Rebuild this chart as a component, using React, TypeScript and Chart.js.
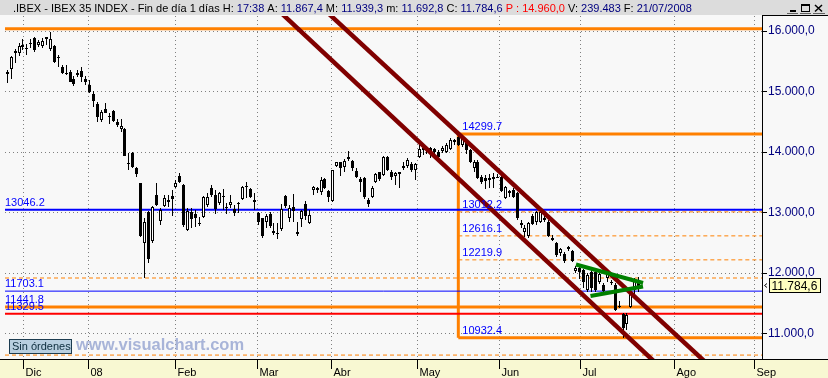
import React, { useEffect, useRef } from 'react';
import { Chart, registerables } from 'chart.js';

Chart.register(...registerables);

const FONT = "'Liberation Sans', Arial, sans-serif";
Chart.defaults.font.family = FONT;

// ---- Candle data (trading-day index = array position) ----
const opens = [
  15284, 15378, 15675, 15631, 15774, 15719, 15785, 15879, 15774, 15752,
  15895, 15708, 15752, 15576, 15411, 15301, 15323, 15213, 15312, 15334,
  15207, 15103, 14959, 14794, 14530, 14717, 14590, 14684, 14502, 14387,
  14376, 13825, 13990, 13742, 13484, 12504, 13016, 12537, 13291, 12867,
  13109, 13181, 13280, 13429, 13605, 13456, 12713, 13016, 12977, 12834,
  12922, 13126, 13401,
  13291, 13153, 13280, 13098, 13126, 13054, 13142, 13225, 13434, 13385,
  13208, 12988, 12906, 12851, 12972, 12658, 12663, 12729, 13275, 12917,
  13098, 12685, 12895, 13137, 12834, 13374, 13374, 13346, 13555, 13357,
  13192, 13776, 13831, 13759, 13919, 13853, 13687, 13555, 13577, 13208,
  13264, 13511, 13665, 13621, 13924, 13676, 13610, 13632, 13731, 13770,
  13798, 13704, 13913, 14073,
  14062, 14062, 14051, 14007, 14018, 13996, 14051, 14161, 14255, 14117,
  14161, 14034, 13732, 13842, 13594, 13566, 13566, 13555, 13594, 13594,
  13247, 13319, 13374, 13319, 12823, 12685, 12619, 12950, 12840, 12851,
  12906, 12851, 12575, 12493, 12327, 12311, 12399, 12366, 12036, 12091,
  12052, 11722, 12025, 12025, 11859, 11804, 11925, 11859, 11804, 11452,
  11320, 11155, 11447, 11722, 11867.4,
];
const highs = [
  15356, 15587, 15697, 15796, 15862, 15785, 15862, 15906, 15851, 15879,
  15906, 15983, 15763, 15609, 15433, 15433, 15356, 15257, 15356, 15411,
  15257, 15191, 15014, 14833, 14695, 14805, 14640, 14695, 14541, 14541,
  14392, 13979, 14007, 13759, 13495, 12906, 13032, 13109, 13484, 13071,
  13291, 13291, 13374, 13539, 13660, 13473, 13071, 13071, 13043, 12933,
  13274, 13319, 13456,
  13374, 13346, 13390, 13153, 13291, 13126, 13181, 13445, 13500, 13401,
  13318, 13016, 12917, 12972, 13005, 12823, 12823, 13137, 13291, 13126,
  13302, 12851, 13043, 13192, 13043, 13440, 13429, 13594, 13577, 13374,
  13709, 13842, 13842, 13886, 14018, 13869, 13731, 13594, 13594, 13236,
  13445, 13649, 13676, 13941, 13941, 13704, 13676, 13676, 13842, 13897,
  13831, 13814, 14117, 14117,
  14106, 14089, 14073, 14034, 14106, 14144, 14227, 14216, 14299.7, 14282,
  14183, 14051, 13869, 13869, 13621, 13621, 13632, 13649, 13632, 13610,
  13445, 13374, 13401, 13346, 12878, 12795, 12851, 12972, 13027, 13027,
  12961, 12878, 12630, 12520, 12421, 12355, 12454, 12382, 12124, 12135,
  12069, 11997, 12052, 12036, 12025, 11832, 12036, 11887, 11832, 11540,
  11336, 11336, 11760, 11920, 11939.3,
];
const lows = [
  15147, 15213, 15477, 15587, 15686, 15609, 15719, 15653, 15741, 15719,
  15763, 15675, 15477, 15411, 15290, 15268, 15158, 15092, 15235, 15163,
  15114, 14970, 14750, 14502, 14502, 14640, 14464, 14502, 14420, 14337,
  13930, 13704, 13732, 13594, 12603, 11915, 12162, 12493, 13109, 12796,
  13098, 13098, 12950, 13401, 13484, 12768, 12702, 12740, 12768, 12779,
  12906, 13098, 13264,
  12972, 13126, 13043, 12972, 13071, 12950, 12988, 13209, 13247, 13247,
  13043, 12795, 12575, 12740, 12740, 12630, 12564, 12696, 13071, 12840,
  12851, 12614, 12768, 12878, 12806, 13291, 13318, 13291, 13390, 13181,
  13170, 13759, 13610, 13676, 13853, 13687, 13566, 13346, 13225, 13098,
  13247, 13484, 13522, 13605, 13687, 13539, 13456, 13412, 13704, 13743,
  13665, 13539, 13897, 13952,
  13963, 13897, 13952, 13842, 13979, 13979, 14034, 14117, 14106, 14089,
  13963, 13814, 13676, 13555, 13467, 13390, 13401, 13412, 13566, 13346,
  13225, 13264, 13236, 12878, 12740, 12603, 12575, 12795, 12795, 12823,
  12840, 12603, 12531, 12272, 12289, 12162, 12366, 12179, 11997, 11904,
  11749, 11694, 11683, 11694, 11815, 11694, 11859, 11804, 11375, 11430,
  10932.4, 11061, 11430, 11639, 11692.8,
];
const closes = [
  15328, 15565, 15642, 15752, 15730, 15697, 15796, 15686, 15818, 15840,
  15873, 15873, 15488, 15565, 15312, 15290, 15163, 15125, 15279, 15246,
  15158, 14992, 14849, 14585, 14662, 14651, 14585, 14519, 14447, 14431,
  13935, 13798, 13759, 13638, 12614, 12851, 12228, 13098, 13126, 13043,
  13236, 13209, 13219, 13495, 13511, 12795, 13032, 12889, 12906, 12806,
  13253, 13264, 13291,
  13060, 13318, 13253, 13071, 13170, 12999, 13164, 13429, 13423, 13264,
  13170, 12851, 12619, 12950, 12784, 12696, 12641, 13060, 13115, 13082,
  13027, 12641, 13027, 12950, 12961, 13429, 13412, 13539, 13412, 13264,
  13698, 13831, 13732, 13853, 13886, 13743, 13594, 13500, 13264, 13137,
  13412, 13632, 13555, 13924, 13704, 13594, 13660, 13665, 13775, 13869,
  13704, 13798, 14051, 14034,
  14034, 13979, 14007, 13924, 14062, 14117, 14200, 14200, 14117, 14255,
  14034, 13842, 13842, 13566, 13500, 13522, 13539, 13594, 13577, 13357,
  13429, 13357, 13264, 12906, 12795, 12740, 12823, 12806, 13016, 13005,
  12878, 12619, 12548, 12300, 12399, 12201, 12437, 12201, 12091, 12025,
  11859, 11970, 11749, 11722, 11981, 11705, 12025, 11832, 11391, 11447,
  11089, 11309, 11700, 11887, 11784.6,
];

// ---- Axis labels ----
const monthLabels = ['Dic', '08', 'Feb', 'Mar', 'Abr', 'May', 'Jun', 'Jul', 'Ago', 'Sep'];
const monthTickIdx = [4.1, 20.8, 43.0, 63.9, 82.7, 104.7, 125.4, 146.2, 170.2, 190.4];
const yTicks = [11000, 12000, 13000, 14000, 15000, 16000];

// ---- Drawn levels ----
const levelValues = [16038, 13046.2, 11920, 11703.1, 11441.8, 11329.5, 10647];
const levelLabels = ['', '13046.2', '', '11703.1', '11441.8', '11329.5', ''];
const fibValues = [14299.7, 13012.2, 12616.1, 12219.9, 10932.4];
const fibLabels = ['14299.7', '13012.2', '12616.1', '12219.9', '10932.4'];
const fibStartIdx = 115;
const channelUpper = [[79.7, 16421], [181.7, 10309]];
const channelLower = [[67.0, 16469], [171.5, 10144]];
const triangleUpper = [[145.0, 12143], [162.1, 11837]];
const triangleLower = [[148.7, 11623], [162.1, 11780]];
const lastPrice = 11784.6;

const titleParts: [string, string][] = [
  ['.IBEX - IBEX 35 INDEX - Fin de día 1 días H: ', 'k'],
  ['17:38', 'v'], [' A: ', 'k'], ['11.867,4', 'v'], [' M: ', 'k'], ['11.939,3', 'v'],
  [' m: ', 'k'], ['11.692,8', 'v'], [' C: ', 'k'], ['11.784,6', 'v'],
  [' P : 14.960,0', 'r'], [' V: ', 'k'], ['239.483', 'v'], [' F: ', 'k'], ['21/07/2008', 'v'],
];

// ---- Styles / scale settings ----
const X_MIN = -0.586;
const X_MAX = 192.43;
const Y_MIN = 10582.1;
const Y_MAX = 16247.8;
const ORANGE = '#ff8000';
const levelStyles = [
  { color: ORANGE, width: 3, dash: [] as number[] },
  { color: '#0000ff', width: 2, dash: [] as number[] },
  { color: ORANGE, width: 1, dash: [4, 3] },
  { color: '#0000ff', width: 1, dash: [] as number[] },
  { color: ORANGE, width: 3, dash: [] as number[] },
  { color: '#ff0000', width: 2, dash: [] as number[] },
  { color: ORANGE, width: 1, dash: [4, 3] },
];
const fibStyles = [
  { color: ORANGE, width: 3, dash: [] as number[] },
  { color: ORANGE, width: 1, dash: [4, 3] },
  { color: ORANGE, width: 1, dash: [4, 3] },
  { color: ORANGE, width: 1, dash: [4, 3] },
  { color: ORANGE, width: 3, dash: [] as number[] },
];

function fmtEs(v: number, dec: number) {
  const [i, d] = v.toFixed(dec).split('.');
  return i.replace(/\B(?=(\d{3})+(?!\d))/g, '.') + ',' + (d ?? '0');
}

const snapPlugin = {
  id: 'snapBars',
  afterDatasetsUpdate(chart: any) {
    chart.data.datasets.forEach((ds: any, di: number) => {
      if (ds.type !== 'bar') return;
      const meta = chart.getDatasetMeta(di);
      meta.data.forEach((el: any) => {
        el.x = Math.floor(el.x) + 0.5;
        el.y = Math.round(el.y);
        el.base = Math.round(el.base);
        if (el.base - el.y < 1) el.base = el.y + 1;
      });
    });
  },
};

const decorPlugin = {
  id: 'decor',
  beforeDraw(chart: any) {
    const { ctx, chartArea: ca, scales } = chart;
    const xs = scales.x;
    ctx.save();
    ctx.fillStyle = '#f8f8f8';
    ctx.fillRect(0, 0, chart.width, chart.height);
    ctx.strokeStyle = '#808080';
    ctx.lineWidth = 1;
    ctx.setLineDash([1, 3]);
    monthTickIdx.forEach((m) => {
      const px = Math.floor(xs.getPixelForValue(m)) + 0.5;
      ctx.beginPath();
      ctx.moveTo(px, ca.top);
      ctx.lineTo(px, ca.bottom);
      ctx.stroke();
    });
    ctx.restore();
  },
  afterDraw(chart: any) {
    const { ctx, chartArea: ca, scales } = chart;
    const xs = scales.x;
    const ys = scales.y;
    const W = chart.width;
    const H = chart.height;
    ctx.save();
    ctx.setLineDash([]);

    // title bar
    ctx.fillStyle = '#dcdcdc';
    ctx.fillRect(0, 0, W, 15);
    ctx.font = `11px ${FONT}`;
    ctx.textAlign = 'left';
    ctx.textBaseline = 'alphabetic';
    const cmap: Record<string, string> = { k: '#000000', v: '#000080', r: '#ff0000' };
    let tx = 13;
    titleParts.forEach(([t, c]) => {
      ctx.fillStyle = cmap[c];
      ctx.fillText(t, tx, 12);
      tx += ctx.measureText(t).width;
    });

    // window buttons
    ctx.fillStyle = '#000';
    ctx.fillRect(790, 10, 6, 2);
    ctx.strokeStyle = '#000';
    ctx.lineWidth = 1;
    ctx.strokeRect(801.5, 4.5, 8, 7);
    ctx.fillRect(801, 4, 9, 2);
    ctx.lineWidth = 1.5;
    ctx.beginPath();
    ctx.moveTo(815, 5); ctx.lineTo(822, 11.5);
    ctx.moveTo(822, 5); ctx.lineTo(815, 11.5);
    ctx.stroke();
    ctx.lineWidth = 1;
    ctx.strokeStyle = '#606060';
    ctx.beginPath();
    ctx.moveTo(787, 13.5); ctx.lineTo(798, 13.5);
    ctx.moveTo(800, 13.5); ctx.lineTo(811, 13.5);
    ctx.moveTo(813, 13.5); ctx.lineTo(825, 13.5);
    ctx.stroke();

    // bottom date strip
    ctx.fillStyle = '#f8f8d2';
    ctx.fillRect(0, ca.bottom, W, H - ca.bottom);
    ctx.strokeStyle = '#000';
    ctx.beginPath();
    ctx.moveTo(0, ca.bottom + 0.5);
    ctx.lineTo(W, ca.bottom + 0.5);
    ctx.stroke();
    ctx.font = `11px ${FONT}`;
    ctx.fillStyle = '#000';
    monthTickIdx.forEach((m, i) => {
      const px = Math.floor(xs.getPixelForValue(m)) + 0.5;
      ctx.beginPath();
      ctx.moveTo(px, ca.bottom + 1);
      ctx.lineTo(px, ca.bottom + 10);
      ctx.stroke();
      ctx.fillText(monthLabels[i], px + 2, H - 2);
    });

    // right panel frame
    ctx.beginPath();
    ctx.moveTo(ca.right + 0.5, 15);
    ctx.lineTo(ca.right + 0.5, ca.bottom + 1);
    ctx.moveTo(ca.right, 15.5);
    ctx.lineTo(W, 15.5);
    ctx.stroke();

    // level labels
    ctx.font = `11px ${FONT}`;
    ctx.fillStyle = '#0000ff';
    levelValues.forEach((v, i) => {
      if (levelLabels[i]) ctx.fillText(levelLabels[i], 5, ys.getPixelForValue(v) - 4);
    });
    const fx = xs.getPixelForValue(fibStartIdx) + 4;
    fibValues.forEach((v, i) => {
      ctx.fillText(fibLabels[i], fx, ys.getPixelForValue(v) - 4);
    });

    // "Sin órdenes" box
    ctx.fillStyle = '#b8cfe0';
    ctx.fillRect(9.5, 339.5, 62, 14);
    ctx.strokeStyle = '#1c3c50';
    ctx.strokeRect(9.5, 339.5, 62, 14);
    ctx.fillStyle = '#0c2c3c';
    ctx.font = `11px ${FONT}`;
    ctx.fillText('Sin órdenes', 12, 350);

    // watermark
    ctx.fillStyle = '#a8b4d8';
    ctx.font = `bold 16.5px ${FONT}`;
    ctx.fillText('www.visualchart.com', 76, 350);

    // last price tag
    const py = ys.getPixelForValue(lastPrice);
    const top = Math.round(py - 8) + 0.5;
    ctx.fillStyle = '#ffffc0';
    ctx.fillRect(769.5, top, 51, 14);
    ctx.strokeStyle = '#000';
    ctx.strokeRect(769.5, top, 51, 14);
    ctx.fillStyle = '#000';
    ctx.font = `12px ${FONT}`;
    ctx.fillText(fmtEs(lastPrice, 1), 771.5, top + 11.5);
    ctx.beginPath();
    ctx.moveTo(767, top + 5);
    ctx.lineTo(764.5, top + 7);
    ctx.lineTo(767, top + 9);
    ctx.stroke();

    ctx.restore();
  },
};

function lineDs(points: number[][], color: string, width: number, dash: number[], order: number) {
  return {
    type: 'line',
    data: points.map(([x, y]) => ({ x, y })),
    borderColor: color,
    borderWidth: width,
    borderDash: dash,
    pointRadius: 0,
    fill: false,
    tension: 0,
    order,
  };
}

export default function App() {
  const ref = useRef<HTMLCanvasElement>(null);

  useEffect(() => {
    document.body.style.margin = '0';
    const canvas = ref.current as HTMLCanvasElement;

    const datasets: any[] = [];
    levelValues.forEach((v, i) => {
      const s = levelStyles[i];
      datasets.push(lineDs([[X_MIN, v], [X_MAX, v]], s.color, s.width, s.dash, 10));
    });
    fibValues.forEach((v, i) => {
      const s = fibStyles[i];
      datasets.push(lineDs([[fibStartIdx, v], [X_MAX, v]], s.color, s.width, s.dash, 10));
    });
    datasets.push(lineDs([[fibStartIdx, fibValues[fibValues.length - 1]], [fibStartIdx, fibValues[0]]], ORANGE, 3, [], 10));

    datasets.push({
      type: 'bar',
      data: highs.map((h, i) => ({ x: i, y: [lows[i], h] })),
      backgroundColor: '#000000',
      borderWidth: 0,
      barThickness: 1,
      maxBarThickness: 1,
      grouped: false,
      inflateAmount: 0,
      order: 6,
    });
    datasets.push({
      type: 'bar',
      data: opens.map((o, i) => ({ x: i, y: [Math.min(o, closes[i]), Math.max(o, closes[i])] })),
      backgroundColor: opens.map((o, i) => (closes[i] >= o ? '#ffffff' : '#000000')),
      borderColor: '#000000',
      borderWidth: 1,
      borderSkipped: false,
      barThickness: 3,
      maxBarThickness: 3,
      grouped: false,
      inflateAmount: 0,
      order: 5,
    });

    datasets.push(lineDs(channelUpper, '#800000', 4.5, [], 2));
    datasets.push(lineDs(channelLower, '#800000', 4.5, [], 2));
    datasets.push(lineDs(triangleUpper, '#008000', 4, [], 1));
    datasets.push(lineDs(triangleLower, '#008000', 4, [], 1));

    const chart = new Chart(canvas, {
      type: 'bar',
      data: { datasets },
      options: {
        animation: false,
        responsive: false,
        devicePixelRatio: 1,
        events: [],
        layout: { padding: { left: 5, right: 0, top: 16, bottom: 19 } },
        plugins: { legend: { display: false }, tooltip: { enabled: false }, title: { display: false } },
        scales: {
          x: {
            type: 'linear',
            min: X_MIN,
            max: X_MAX,
            display: false,
            offset: false,
          },
          y: {
            type: 'linear',
            position: 'right',
            min: Y_MIN,
            max: Y_MAX,
            beginAtZero: false,
            afterBuildTicks: (scale: any) => {
              scale.ticks = yTicks.map((v) => ({ value: v }));
            },
            afterFit: (scale: any) => {
              scale.width = 66;
            },
            grid: {
              color: '#808080',
              lineWidth: 1,
              tickLength: 5,
              tickColor: '#000000',
              drawTicks: true,
            },
            border: { display: false, dash: [1, 3] },
            ticks: {
              color: '#000080',
              padding: 1,
              font: { size: 12, family: FONT },
              callback: (v: any) => fmtEs(Number(v), 1),
            },
          },
        },
      } as any,
      plugins: [snapPlugin, decorPlugin],
    } as any);

    return () => chart.destroy();
  }, []);

  return (
    <div style={{ position: 'absolute', left: 0, top: 0, width: 828, height: 378 }}>
      <canvas ref={ref} width={828} height={378} style={{ display: 'block', width: 828, height: 378 }} />
    </div>
  );
}
